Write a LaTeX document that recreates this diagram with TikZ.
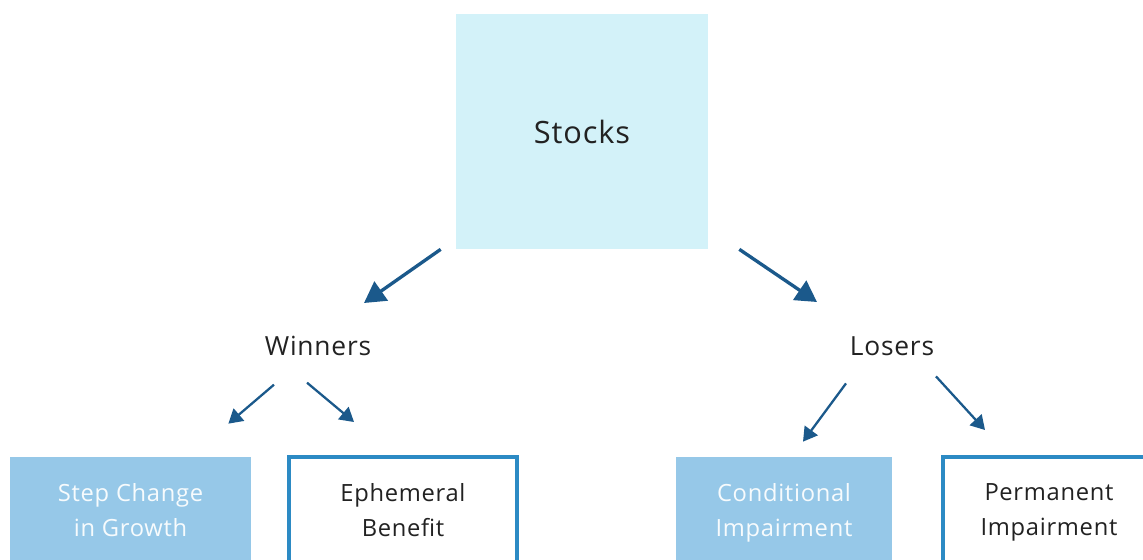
\documentclass[tikz,border=0pt]{standalone}
\usepackage{fontspec}
\setsansfont{Open Sans}[LetterSpace=3]
\usetikzlibrary{arrows.meta, calc}
\definecolor{stockcol}{RGB}{211, 242, 249}
\definecolor{fillcol}{RGB}{150, 200, 232}
\definecolor{edgecol}{RGB}{44, 138, 196}
\definecolor{arrowcol}{RGB}{27, 89, 139}
\definecolor{inkcol}{RGB}{34, 34, 34}
\tikzset{
  top/.style    = {fill=stockcol, minimum width=5.04cm, minimum height=4.7cm,
                   font=\sffamily\fontsize{17.5}{21}\selectfont, text=inkcol},
  group/.style  = {font=\sffamily\fontsize{15}{18}\selectfont, text=inkcol,
                   inner sep=2pt},
  leaf/.style   = {align=center, minimum height=2.32cm,
                   font=\sffamily\fontsize{13.5}{20}\selectfont,
                   execute at end node=\strut},
  soft/.style   = {leaf, fill=fillcol, text=white!92!fillcol},
  framed/.style = {leaf, draw=edgecol, line width=0.08cm, fill=white,
                   text=inkcol},
  % the two arrows out of the top box are heavier than the lower four
  bigflow/.style = {-{Triangle[length=4.2mm, width=4.6mm]}, draw=arrowcol,
                    line width=1.9pt},
  flow/.style    = {-{Triangle[length=2.8mm, width=3.2mm]}, draw=arrowcol,
                    line width=1.3pt},
}

\begin{document}
\begin{tikzpicture}[x=0.02cm, y=-0.02cm]

  \useasboundingbox (0,0) rectangle (1143,559);
  \clip (0,0) rectangle (1143,559);

  \node[top] (stocks) at (582,131.5) {Stocks};

  %% ---------------- second row ----------------
  \node[group] (winners) at (318,346) {Winners};
  \node[group] (losers)  at (892,346) {Losers};

  \draw[bigflow] ($(stocks.south west)+(-15,0)$) -- ($(winners.center)+(46,-43)$);
  \draw[bigflow] ($(stocks.south east)+(31,0)$)  -- ($(losers.center)+(-75,-44)$);

  %% ---------------- bottom row ----------------
  \node[soft, minimum width=4.82cm]   (step)  at (130.5,515) {Step Change\\in Growth};
  \node[framed, minimum width=4.56cm] (ephem) at (403,515)   {Ephemeral\\Benefit};
  \node[soft, minimum width=4.32cm]   (cond)  at (784,515)   {Conditional\\Impairment};
  \node[framed, minimum width=4.24cm] (perm)  at (1049,515)  {Permanent\\Impairment};

  \draw[flow] ($(winners.south)+(-44,25)$) -- ($(step.north east)+(-23,-33)$);
  \draw[flow] ($(winners.south)+(-11,23)$) -- ($(ephem.north west)+(67,-33)$);
  \draw[flow] ($(losers.south)+(-46,24)$)  -- ($(cond.north)+(19,-15)$);
  \draw[flow] ($(losers.south)+(44,17)$)   -- ($(perm.north west)+(44,-25)$);

\end{tikzpicture}
\end{document}
